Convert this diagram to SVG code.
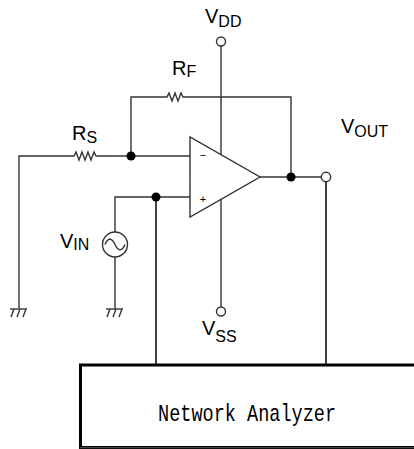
<svg xmlns="http://www.w3.org/2000/svg" width="414" height="449" viewBox="0 0 414 449">
<style>
.w{fill:none;stroke:#333;stroke-width:1.4;stroke-linejoin:miter}
.k{fill:none;stroke:#000;stroke-width:1.5}
.dot{fill:#000}
.term{fill:#fff;stroke:#333;stroke-width:1.4}
.lbl{font-family:"Liberation Sans",Arial,sans-serif;font-size:20px;fill:#000}
.sub{font-size:16px}
.sign{font-family:"Liberation Sans",Arial,sans-serif;font-size:11px;fill:#000;text-anchor:middle}
.gnd{fill:none;stroke:#333;stroke-width:1.4}
</style>
<rect width="414" height="449" fill="#fff"/>
<g id="connectors">
  <polyline class="w" points="19,308 19,156 66,156"/>
  <line class="w" x1="106" y1="156" x2="190" y2="156"/>
  <polyline class="w" points="131,156 131,97 163,97"/>
  <polyline class="w" points="187,97 291,97 291,177"/>
  <line class="w" x1="260" y1="177" x2="321" y2="177"/>
  <line class="k" x1="326" y1="182" x2="326" y2="365"/>
  <polyline class="w" points="115,232 115,197 190,197"/>
  <line class="k" x1="156" y1="197" x2="156" y2="365"/>
  <line class="w" x1="115" y1="257" x2="115" y2="309"/>
  <line class="w" x1="221" y1="46" x2="221" y2="155"/>
  <line class="w" x1="221" y1="199" x2="221" y2="307"/>
</g>
<g id="Rs">
  <polyline class="w" points="66,156 74,156 76,152 79,160 82,152 85,160 88,152 91,160 94,152 96,156 106,156"/>
  <text class="lbl" x="72" y="140">R<tspan class="sub" dy="3">S</tspan></text>
</g>
<g id="Rf">
  <polyline class="w" points="163,97 167,97 169,93 172,101 175,93 178,101 181,93 183,97 187,97"/>
  <text class="lbl" x="172" y="75">R<tspan class="sub" dy="2">F</tspan></text>
</g>
<g id="opamp">
  <polygon points="190,137 190,217 260,177" fill="#fff" stroke="#333" stroke-width="1.4"/>
  <text class="sign" x="203" y="159">−</text>
  <text class="sign" x="203" y="203">+</text>
</g>
<g id="nodes">
  <circle class="dot" cx="131" cy="156" r="4.5"/>
  <circle class="dot" cx="156" cy="197" r="4.5"/>
  <circle class="dot" cx="291" cy="177" r="4.5"/>
</g>
<g id="vdd">
  <circle class="term" cx="221" cy="41.5" r="4.5"/>
  <text class="lbl" x="205" y="23">V<tspan class="sub" dy="4">DD</tspan></text>
</g>
<g id="vss">
  <circle class="term" cx="221" cy="311.5" r="4.5"/>
  <text class="lbl" x="202" y="335">V<tspan class="sub" dy="7">SS</tspan></text>
</g>
<g id="vout">
  <circle class="term" cx="326" cy="177" r="4.7"/>
  <text class="lbl" x="341" y="133">V<tspan class="sub" dy="4">OUT</tspan></text>
</g>
<g id="vin">
  <circle cx="115" cy="244.5" r="12.5" fill="#fff" stroke="#333" stroke-width="1.4"/>
  <path class="w" d="M105,244.5 C108,237 112,238 115,244.5 C118,251 122,252 125,244.5"/>
  <text class="lbl" x="60" y="248">V<tspan class="sub" dy="2">IN</tspan></text>
</g>
<g id="gnd1">
  <line class="gnd" x1="10" y1="309" x2="27" y2="309"/>
  <path class="gnd" d="M14,309 L11,317 M20,309 L17,317 M26,309 L23,317"/>
</g>
<g id="gnd2">
  <line class="gnd" x1="106" y1="309" x2="123" y2="309"/>
  <path class="gnd" d="M110,309 L107,317 M116,309 L113,317 M122,309 L119,317"/>
</g>
<g id="analyzer">
  <rect x="80.5" y="365" width="340" height="82.5" fill="none" stroke="#000" stroke-width="3"/>
  <line x1="80" y1="447.7" x2="414" y2="447.7" stroke="#555" stroke-width="1"/>
  <text x="158" y="421" font-family="Liberation Mono, monospace" font-size="24" textLength="178" lengthAdjust="spacingAndGlyphs" fill="#000">Network Analyzer</text>
</g>
</svg>
